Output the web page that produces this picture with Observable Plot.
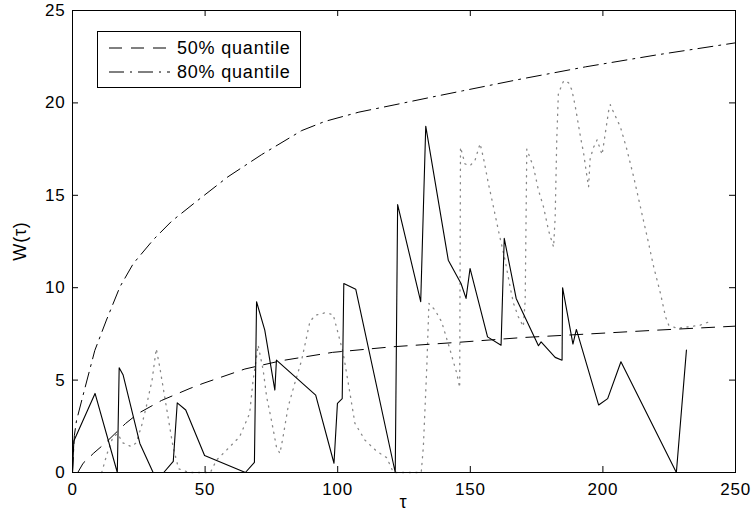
<!DOCTYPE html>
<html><head><meta charset="utf-8">
<script src="https://cdn.jsdelivr.net/npm/d3@7"></script>
<script src="https://cdn.jsdelivr.net/npm/@observablehq/plot@0.6"></script>
<style>
body{margin:0;background:#fff}
svg text{letter-spacing:0.8px}
</style>
</head><body><div id="chart"></div>
<script>
// sample path (solid)
const pathTau = [0,0.5,8.5,16.9,17.6,19.1,25.4,30.4,34.4,38,39.5,42.7,49.8,65.2,68.6,69.4,72.5,76.3,76.9,91.7,98.6,99.9,101.7,102.3,106.8,121.7,122.6,131.3,133.2,141.7,146.5,148.4,149.9,156.5,161.6,162.8,167.3,175.7,176.7,182,184.6,184.8,188.7,190,198.4,201.8,206.8,227.7,231.5];
const pathW   = [0,1.7,4.28,0,5.67,5.27,1.57,0,0,0.6,3.77,3.38,0.92,0,0.55,9.24,7.7,4.46,6.08,4.19,0.5,3.74,4.0,10.23,9.92,0,14.5,9.24,18.74,11.49,10.23,9.42,11.04,7.34,6.89,12.67,9.42,6.86,7.07,6.23,6.08,10.0,6.95,7.74,3.65,4.0,5.99,0,6.62];
// second path (grey dotted)
const altTau = [11,13,15.2,17,19,22.2,24,26,27.8,30,31.6,32.9,35.4,37.9,40,44,52,54.3,58,63,66.8,68.1,69.4,70,71.9,73.2,75,76.9,78.2,79.4,81.3,83.8,86.4,89.5,91.4,95.2,98.3,100.2,102.1,104,106.5,110.3,114.7,118.5,121,131.5,132.3,133.6,134.4,136.7,139.2,142.4,144.9,146,146.3,148,149.9,151.8,153.7,155,156.8,158.7,160.6,163.1,165,166.3,168.1,170,170.7,171.3,173.8,175.7,177.6,179.5,181.4,182,182.6,183.2,185.2,187,188.3,189.6,191.5,192.7,194,194.6,195.2,196.5,197.8,199.7,200.9,202.2,202.8,204,206.6,209.1,211.6,214.1,216.7,219.2,221.7,223.6,224.8,228,233,236.8,239.9];
const altW   = [0,1.0,1.9,2.1,1.6,1.4,1.6,2.5,3.55,5.0,6.7,5.7,3.55,1.4,0.2,0,0,0.67,1.2,1.93,3.2,5.0,6.26,6.89,5.54,4.1,2.84,1.39,1.03,1.93,3.55,4.82,6.08,8.15,8.5,8.64,8.55,7.5,6.44,4.82,2.66,1.75,1.15,0.8,0,0,1.39,5.72,9.15,8.79,8.15,6.62,5.36,4.6,17.6,16.7,16.6,16.9,17.8,17.0,15.65,14.4,13.1,11.5,10.05,9.15,8.43,7.9,9.3,17.5,16.54,15.28,14.38,13.1,12.2,13.8,18.0,20.5,21.2,21.1,20.7,19.8,18.2,17.3,16.0,15.46,17.0,17.6,18.0,17.2,18.35,19.6,19.9,19.5,18.7,17.45,16.0,14.4,12.75,11.1,9.7,8.43,7.98,7.8,7.9,7.98,8.15];
// 50% quantile (dashed)
const q50Tau = [2,4,8,12.2,16,20,24.8,33.6,44.3,49.2,65,78.8,98,120.4,146,169.4,195,220,250];
const q50W   = [0,0.5,1.05,1.57,2.1,2.65,3.2,3.9,4.55,4.82,5.6,6.05,6.5,6.8,7.05,7.3,7.5,7.7,7.92];
// 80% quantile (dash-dot)
const q80Tau = [0,0.7,1.5,4.2,8.4,12.8,17.9,22.9,30.5,37.4,47,58.6,71.3,86.4,95.2,108,121.6,135,147,169.4,193.4,220.4,250];
const q80W   = [0,2.0,2.8,4.3,6.6,8.25,10.05,11.3,12.6,13.6,14.7,16.0,17.2,18.5,19.0,19.5,19.9,20.3,20.65,21.3,21.95,22.6,23.25];

const xTicks = [0,50,100,150,200,250];
const yTicks = [0,5,10,15,20,25];
const legendLabels = ["50% quantile","80% quantile"];

const zip = (t,w) => t.map((v,i)=>({t:v,w:w[i]}));
const W=754, H=514, mL=72, mR=19, mT=10, mB=42;
const innerW = W-mL-mR, innerH = H-mT-mB;
const xMax = 250, yMax = 25, tickPx = 6;
const tx = tickPx*xMax/innerW, ty = tickPx*yMax/innerH; // inward tick length in data units
const font = "'Liberation Sans', Arial, Helvetica, sans-serif";

const chart = Plot.plot({
  width:W, height:H, marginLeft:mL, marginRight:mR, marginTop:mT, marginBottom:mB,
  style:{fontFamily:font, fontSize:"17px", background:"white", color:"black", overflow:"visible"},
  x:{domain:[0,xMax]}, y:{domain:[0,yMax]},
  marks:[
    Plot.line(zip(altTau,altW), {x:"t", y:"w", stroke:"#888", strokeWidth:1.3, strokeDasharray:"1.2,5.5"}),
    Plot.line(zip(q50Tau,q50W), {x:"t", y:"w", stroke:"black", strokeWidth:1, strokeDasharray:"13,9"}),
    Plot.line(zip(q80Tau,q80W), {x:"t", y:"w", stroke:"black", strokeWidth:1, strokeDasharray:"15,6,2,6"}),
    Plot.line(zip(pathTau,pathW), {x:"t", y:"w", stroke:"black", strokeWidth:1.1}),
    Plot.ruleX(xTicks, {x:d=>d, y1:0, y2:ty, stroke:"black"}),
    Plot.ruleX(xTicks, {x:d=>d, y1:yMax-ty, y2:yMax, stroke:"black"}),
    Plot.ruleY(yTicks, {y:d=>d, x1:0, x2:tx, stroke:"black"}),
    Plot.ruleY(yTicks, {y:d=>d, x1:xMax-tx, x2:xMax, stroke:"black"}),
    Plot.frame({stroke:"black"}),
    Plot.axisX(xTicks, {tickSize:0, tickPadding:10, label:null, fontSize:17}),
    Plot.axisY(yTicks, {tickSize:0, tickPadding:7, label:null, fontSize:17})
  ]
});
document.getElementById("chart").appendChild(chart);

const svg = d3.select(chart);
const g = svg.append("g").attr("font-family", font).attr("fill","black").attr("text-anchor","start");
// axis labels
g.append("text").attr("transform","translate(21,241) rotate(-90)")
  .attr("text-anchor","middle").attr("dominant-baseline","middle").attr("font-size",18).text("W(τ)");
g.append("text").attr("x", mL+innerW/2).attr("y", 508)
  .attr("text-anchor","middle").attr("font-size",18).text("τ");
// legend
g.append("rect").attr("x",97.5).attr("y",31.5).attr("width",203).attr("height",56)
  .attr("fill","white").attr("stroke","black");
const dashes = ["13,9","15,6,2,6"];
legendLabels.forEach((lab,i)=>{
  const yy = 48 + i*24;
  g.append("line").attr("x1",109).attr("x2",170).attr("y1",yy).attr("y2",yy)
    .attr("stroke","black").attr("stroke-dasharray",dashes[i]);
  g.append("text").attr("x",177).attr("y",yy).attr("dominant-baseline","central")
    .attr("text-anchor","start").attr("font-size",18).text(lab);
});
</script>
</body></html>
